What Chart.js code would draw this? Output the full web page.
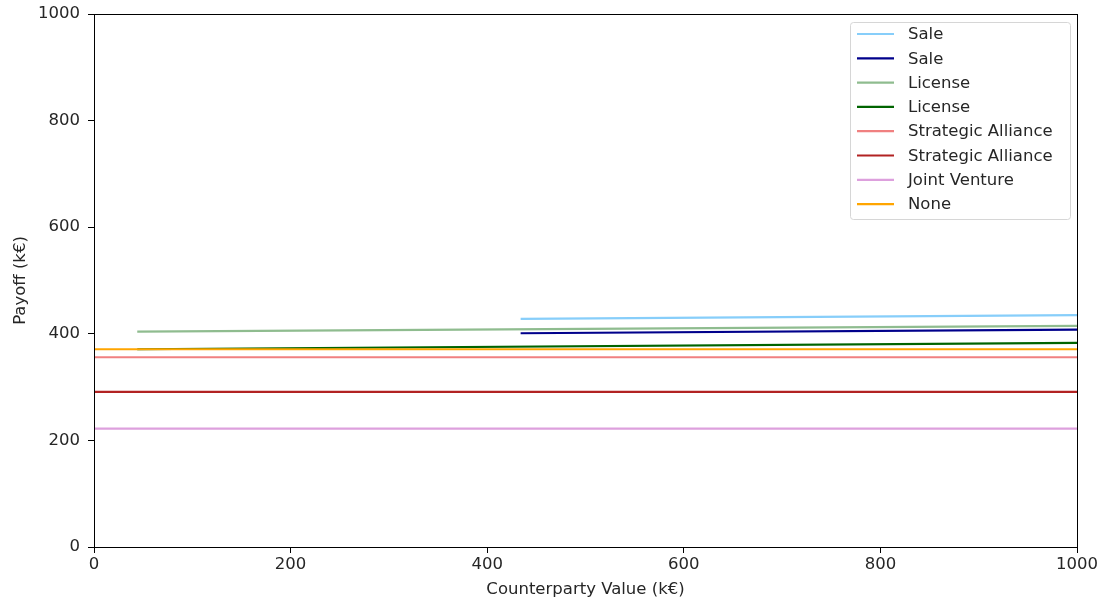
<!DOCTYPE html>
<html>
<head>
<meta charset="utf-8">
<script src="https://cdn.jsdelivr.net/npm/chart.js@4/dist/chart.umd.min.js"></script>
<style>
  html, body { margin: 0; padding: 0; background: #fff; }
  #wrap { width: 1108px; height: 603px; }
</style>
</head>
<body>
<div id="wrap"><canvas id="payoffChart" width="1108" height="603"></canvas></div>
<script>
// Payoff per strategy vs counterparty value
const seriesNames = ['Sale', 'Sale', 'License', 'License', 'Strategic Alliance', 'Strategic Alliance', 'Joint Venture', 'None'];
const seriesColors = ['#87CEFA', '#00008B', '#8FBC8F', '#006400', '#F08080', '#B22222', '#DDA0DD', '#FFA500'];
const xStart = [434, 434, 44, 44, 0, 0, 0, 0];
const xEnd = [1000, 1000, 1000, 1000, 1000, 1000, 1000, 1000];
const yStart = [428, 401, 404, 371, 356, 291, 222, 371];
const yEnd = [435, 408, 415, 383, 356, 291, 222, 371];
const xTicks = [0, 200, 400, 600, 800, 1000];
const yTicks = [0, 200, 400, 600, 800, 1000];

const textColor = '#262626';
const fontSize = 16.5;
const tickFont = { family: 'DejaVu Sans', size: fontSize };

// box around the plot, like matplotlib spines
const frame = {
    id: 'frame',
    afterDatasetsDraw(chart) {
        const a = chart.chartArea, ctx = chart.ctx;
        ctx.save();
        ctx.strokeStyle = '#000';
        ctx.lineWidth = 1;
        ctx.strokeRect(Math.round(a.left) + 0.5, Math.round(a.top) + 0.5,
            Math.round(a.right - a.left), Math.round(a.bottom - a.top));
        ctx.restore();
    }
};

// legend in the upper right corner inside the axes
const innerLegend = {
    id: 'innerLegend',
    afterDraw(chart) {
        const ctx = chart.ctx;
        const a = chart.chartArea;
        const boxW = 220, boxH = 197, rowH = 24.3;
        const x0 = a.right - 227, y0 = a.top + 8;
        ctx.save();
        ctx.beginPath();
        ctx.roundRect(x0 + 0.5, y0 + 0.5, boxW, boxH, 3);
        ctx.fillStyle = 'rgba(255,255,255,0.8)';
        ctx.fill();
        ctx.strokeStyle = '#d6d6d6';
        ctx.lineWidth = 1;
        ctx.stroke();
        ctx.font = fontSize + 'px "DejaVu Sans"';
        ctx.textBaseline = 'middle';
        chart.data.datasets.forEach((ds, i) => {
            const cy = y0 + 12 + i * rowH;
            ctx.strokeStyle = ds.borderColor;
            ctx.lineWidth = 2.2;
            ctx.beginPath();
            ctx.moveTo(x0 + 7, cy);
            ctx.lineTo(x0 + 44, cy);
            ctx.stroke();
            ctx.fillStyle = textColor;
            ctx.fillText(ds.label, x0 + 58, cy + 1);
        });
        ctx.restore();
    }
};

const datasets = seriesNames.map((name, i) => ({
    label: name,
    data: [{ x: xStart[i], y: yStart[i] }, { x: xEnd[i], y: yEnd[i] }],
    borderColor: seriesColors[i],
    backgroundColor: seriesColors[i],
    borderWidth: 2.2,
    pointRadius: 0,
    fill: false,
    order: seriesNames.length - i
}));

new Chart(document.getElementById('payoffChart'), {
    type: 'line',
    data: { datasets: datasets },
    options: {
        responsive: false,
        animation: false,
        layout: { padding: { left: 0, right: 31, top: 14, bottom: 0 } },
        plugins: { legend: { display: false }, tooltip: { enabled: false } },
        scales: {
            x: {
                type: 'linear',
                min: 0,
                max: 1000,
                afterBuildTicks: (scale) => { scale.ticks = xTicks.map(v => ({ value: v })); },
                afterFit: (scale) => { scale.height = 56; scale.paddingLeft = 0; scale.paddingRight = 0; },
                grid: { drawOnChartArea: false, tickLength: 6, color: '#000', tickColor: '#000' },
                border: { display: false },
                ticks: { color: textColor, font: tickFont, padding: 2, maxRotation: 0, callback: v => String(v) },
                title: { display: true, text: 'Counterparty Value (k€)', color: textColor, font: tickFont, padding: { top: 0, bottom: 3 } }
            },
            y: {
                type: 'linear',
                min: 0,
                max: 1000,
                afterBuildTicks: (scale) => { scale.ticks = yTicks.map(v => ({ value: v })); },
                afterFit: (scale) => { scale.width = 94; scale.paddingTop = 0; scale.paddingBottom = 0; },
                grid: { drawOnChartArea: false, tickLength: 6, color: '#000', tickColor: '#000' },
                border: { display: false },
                ticks: { color: textColor, font: tickFont, padding: 8, callback: v => String(v) },
                title: { display: true, text: 'Payoff (k€)', color: textColor, font: tickFont, padding: { top: 11, bottom: 0 } }
            }
        }
    },
    plugins: [frame, innerLegend]
});
</script>
</body>
</html>
